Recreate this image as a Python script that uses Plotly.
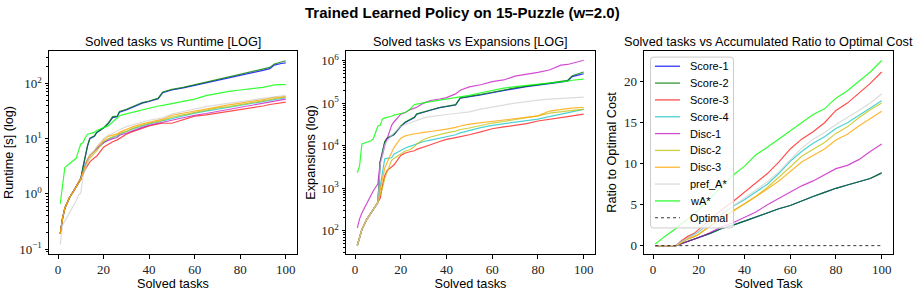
import plotly.graph_objects as go

# ---------------- data ----------------
NAMES = ["Score-1", "Score-2", "Score-3", "Score-4", "Disc-1", "Disc-2", "Disc-3", "pref_A*", "wA*"]
COLORS = ["rgba(0,0,255,0.8)", "rgba(0,128,0,0.8)", "rgba(255,0,0,0.7)", "rgba(0,191,191,0.7)",
          "rgba(191,0,191,0.7)", "rgba(191,191,0,0.75)", "rgba(255,165,0,0.8)", "rgba(205,205,205,0.7)",
          "rgba(0,255,0,0.8)"]

# Tasks at which values were read (panels 1 and 2)
TASKS_A = [1, 2, 3, 5, 7, 8, 9, 10, 11, 12, 13, 14, 16, 17, 20, 22, 24, 26, 27, 30, 33, 37, 40, 44, 46,
           50, 55, 60, 65, 70, 75, 80, 85, 90, 93, 95, 98, 100]

# Runtime [s]
RT_EARLY = [0.19, 0.36, 0.55, 0.85, 1.15, 1.35, 1.6, 1.86]
RT_S1 = RT_EARLY + [3.0, 4.9, 7.4, 10, 11, 12.8, 15.5, 18.5, 24, 25, 30, 33, 37, 44, 47, 53, 68,
                    76, 83, 92, 100, 113, 125, 140, 155, 172, 185, 215, 230, 235]
RT_S2 = RT_EARLY + [3.1, 5.0, 7.6, 10.2, 11.3, 13, 15.8, 19, 25, 25.5, 31, 34, 38, 45, 48, 54, 70,
                    78, 85, 95, 103, 117, 130, 145, 162, 180, 195, 225, 245, 258]
RT_S3 = RT_EARLY + [2.3, 2.8, 3.3, 3.8, 4.5, 4.8, 7.0, 8.0, 8.8, 9.5, 10, 12, 13.5, 15.5, 17, 18.5, 19,
                    19, 22, 25.5, 27, 29, 31, 33, 36, 39, 41.5, 43, 45, 46]
RT_S4 = RT_EARLY + [2.6, 3.5, 4.2, 5.0, 6.0, 6.5, 8.5, 9.8, 10.5, 11.2, 12, 13.5, 15, 17, 18.5, 20, 21,
                    23, 26, 29, 31.5, 34, 37, 40, 43, 47, 49, 51, 53, 55]
RT_D1 = RT_EARLY + [2.5, 3.3, 4.2, 4.8, 6.0, 6.6, 8.5, 9.3, 10, 10.5, 11.5, 12.5, 14, 16, 17.5, 19, 19.8,
                    21.5, 24, 26.5, 28.5, 31, 34, 37, 40, 44, 46, 48, 50, 52]
RT_D2 = RT_EARLY + [2.4, 3.1, 3.8, 4.4, 5.5, 6.0, 9.0, 10, 10.8, 11.5, 12.5, 13.5, 15.5, 17.5, 19, 20.5, 21.5,
                    24.5, 27, 30, 33, 36, 38, 41, 44, 48, 51, 53, 55, 57]
RT_D3 = RT_EARLY + [2.5, 3.4, 4.2, 5.0, 6.0, 7.0, 9.5, 11, 11.5, 12.2, 13, 14.7, 16.5, 18.5, 19.6, 21.5, 22.5,
                    26.5, 29, 32, 35, 38.5, 41, 44, 47, 51, 54, 56, 57, 58]
RT_PA = [0.12, 0.27, 0.32, 0.45, 0.62, 0.75, 0.95, 1.02] + [2.1, 2.9, 3.8, 4.8, 6.0, 7.0, 10, 11.5, 12.5, 13.5,
                    14.5, 16.5, 18, 20, 21.5, 23, 24, 28, 31, 35, 38, 41, 44, 46, 50, 54, 56, 57.5, 59, 61]
RT_WA = [0.66, 1.4, 3.0, 3.5, 4.0, 4.4, 6.0, 8.0] + [8.5, 10.5, 12, 12.3, 13, 14, 16, 17, 20, 24, 26,
                    28, 30, 33, 36, 39, 40, 43, 47, 52, 60, 66, 72, 76, 80, 85, 90, 94, 95, 95]

# Expansions
EX_EARLY = [45, 75, 107, 180, 260, 310, 380, 460]
EX_S1 = EX_EARLY + [4000, 7000, 12000, 14500, 16500, 18000, 28000, 35000, 40000, 46000, 55000,
                    60000, 68000, 78000, 82000, 90000, 130000, 138000, 155000, 175000, 198000, 220000,
                    243000, 260000, 285000, 310000, 330000, 420000, 460000, 490000]
EX_S2 = EX_EARLY + [4200, 7300, 12500, 15000, 17000, 18500, 29000, 36000, 41000, 47000, 56000,
                    61000, 69000, 79000, 84000, 92000, 133000, 142000, 160000, 180000, 204000, 228000,
                    250000, 268000, 295000, 325000, 345000, 440000, 490000, 540000]
EX_S3 = EX_EARLY + [570, 1170, 2000, 2600, 3200, 3500, 5900, 6700, 7200, 7600, 8200, 9100, 10500,
                    12500, 14000, 15500, 16500, 18000, 21000, 25000, 27500, 30000, 33000, 38000, 41000,
                    45000, 48000, 50000, 53000, 55000]
EX_S4 = EX_EARLY + [1100, 2500, 4900, 5000, 5200, 6300, 7800, 8800, 9600, 10500, 11200, 12500, 13500,
                    14800, 15800, 18000, 20000, 23000, 26500, 30000, 32500, 35500, 38500, 42000, 48000,
                    55000, 58000, 62000, 66000, 71000]
EX_D1 = [117, 190, 260, 430, 720, 870, 1050, 1270] + [4200, 5900, 10000, 14000, 30000, 36000, 55000,
                    60000, 70000, 76000, 80000, 100000, 115000, 125000, 135000, 165000, 200000, 240000,
                    270000, 320000, 350000, 430000, 470000, 530000, 600000, 780000, 810000, 850000,
                    950000, 1020000]
EX_D2 = EX_EARLY + [700, 1000, 1700, 2400, 4500, 5000, 6500, 7500, 8000, 9500, 11000, 14000, 16000,
                    18500, 20000, 22000, 24000, 26000, 30000, 34000, 37000, 41000, 45000, 50000, 58000,
                    62000, 65000, 68000, 70000, 72000]
EX_D3 = EX_EARLY + [900, 1600, 3000, 4000, 7000, 9000, 15000, 17000, 18000, 19000, 19500, 20500, 21500,
                    23000, 24500, 27000, 29000, 32000, 34500, 37000, 40000, 43000, 46000, 50000, 65000,
                    72000, 74000, 76000, 78000, 80000]
EX_PA = EX_EARLY + [3500, 6500, 10500, 13000, 17000, 20000, 28000, 32000, 34000, 37000, 40000, 45000,
                    48000, 52000, 54000, 57000, 59000, 62000, 72000, 82000, 90000, 100000, 110000,
                    118000, 124000, 128000, 131000, 134000, 136000, 138000]
EX_WA = [2300, 3400, 11000, 12000, 13000, 14500, 22000, 29000] + [30000, 42000, 45000, 46000, 49000,
                    52000, 57000, 60000, 72000, 93000, 95000, 100000, 108000, 118000, 124000, 135000,
                    140000, 152000, 175000, 200000, 225000, 245000, 260000, 275000, 295000, 315000,
                    330000, 345000, 355000, 365000]

# Accumulated ratio to optimal cost (panel 3)
TASKS_C = [1, 5, 10, 12, 15, 18, 20, 25, 30, 35, 40, 45, 50, 55, 60, 65, 70, 75, 80, 85, 90, 95, 100]
C_S1 = [0, 0, 0, 0.2, 0.5, 0.8, 1.0, 1.5, 2.1, 2.5, 3.0, 3.5, 4.0, 4.5, 4.9, 5.5, 6.0, 6.5, 7.0, 7.4, 7.8, 8.2, 8.9]
C_S2 = [0, 0, 0, 0.2, 0.5, 0.8, 1.0, 1.5, 2.1, 2.5, 3.0, 3.5, 4.0, 4.5, 4.9, 5.5, 6.0, 6.5, 7.0, 7.4, 7.8, 8.2, 8.85]
C_S3 = [0, 0, 0, 0.5, 1.1, 1.5, 2.0, 3.2, 4.4, 5.4, 6.5, 7.6, 8.8, 10.2, 11.8, 13.0, 13.9, 15.0, 16.5, 17.4, 18.6, 19.8, 21.2]
C_S4 = [0, 0, 0, 0.4, 0.9, 1.3, 1.7, 2.8, 3.8, 4.8, 5.6, 6.5, 7.5, 8.8, 10.3, 11.5, 12.5, 13.3, 14.3, 15.0, 15.9, 16.8, 17.7]
C_D1 = [0, 0, 0, 0.2, 0.5, 0.8, 1.0, 1.6, 2.3, 2.8, 3.4, 4.1, 5.0, 5.8, 6.6, 7.3, 7.9, 8.6, 9.4, 9.8, 10.5, 11.5, 12.4]
C_D2 = [0, 0, 0, 0.3, 0.8, 1.1, 1.4, 2.4, 3.4, 4.3, 5.1, 6.0, 7.1, 8.3, 9.6, 10.9, 11.8, 12.6, 13.7, 14.5, 15.6, 16.6, 17.4]
C_D3 = [0, 0, 0, 0.3, 0.8, 1.1, 1.4, 2.4, 3.3, 4.2, 5.0, 5.9, 6.9, 7.9, 9.0, 10.2, 11.0, 11.8, 12.9, 13.6, 14.6, 15.5, 16.4]
C_PA = [0, 0, 0, 0.4, 0.9, 1.3, 1.7, 2.8, 3.9, 4.8, 5.8, 6.7, 7.8, 9.0, 10.5, 11.9, 13.0, 13.8, 14.8, 15.6, 16.5, 17.4, 18.5]
C_WA = [0.2, 1.1, 2.1, 2.6, 3.2, 3.9, 4.4, 5.8, 7.2, 8.6, 9.7, 11.1, 12.0, 13.0, 14.0, 15.1, 16.0, 16.7, 18.0, 18.9, 20.1, 21.2, 22.6]
OPT_TASKS = [1, 100]
OPT_VALUES = [0, 0]

RUNTIME = [RT_S1, RT_S2, RT_S3, RT_S4, RT_D1, RT_D2, RT_D3, RT_PA, RT_WA]
EXPANSIONS = [EX_S1, EX_S2, EX_S3, EX_S4, EX_D1, EX_D2, EX_D3, EX_PA, EX_WA]
RATIO = [C_S1, C_S2, C_S3, C_S4, C_D1, C_D2, C_D3, C_PA, C_WA]

TITLE = "<b>Trained Learned Policy on 15-Puzzle (w=2.0)</b>"
SUB_TITLES = ["Solved tasks vs Runtime [LOG]", "Solved tasks vs Expansions [LOG]",
              "Solved tasks vs Accumulated Ratio to Optimal Cost"]
X_TITLES = ["Solved tasks", "Solved tasks", "Solved Task"]
Y_TITLES = ["Runtime [s] (log)", "Expansions (log)", "Ratio to Optimal Cost"]

# ---------------- figure ----------------
W, H = 921, 293
SANS = "Liberation Sans"
SERIF = "Liberation Serif"
LW = 1.2

fig = go.Figure()
for i, name in enumerate(NAMES):
    fig.add_trace(go.Scatter(x=TASKS_A, y=RUNTIME[i], mode="lines", name=name,
                             line=dict(color=COLORS[i], width=LW), showlegend=False,
                             xaxis="x", yaxis="y"))
for i, name in enumerate(NAMES):
    fig.add_trace(go.Scatter(x=TASKS_A, y=EXPANSIONS[i], mode="lines", name=name,
                             line=dict(color=COLORS[i], width=LW), showlegend=False,
                             xaxis="x2", yaxis="y2"))
for i, name in enumerate(NAMES):
    fig.add_trace(go.Scatter(x=TASKS_C, y=RATIO[i], mode="lines", name=name,
                             line=dict(color=COLORS[i], width=LW), showlegend=False,
                             xaxis="x3", yaxis="y3"))
fig.add_trace(go.Scatter(x=OPT_TASKS, y=OPT_VALUES, mode="lines", name="Optimal",
                         line=dict(color="black", width=0.8, dash="dot"), showlegend=False,
                         xaxis="x3", yaxis="y3"))

xdoms = [[49 / W, 297 / W], [346 / W, 595 / W], [644 / W, 893 / W]]
ydom = [(H - 256) / H, (H - 51) / H]

common_axis = dict(showline=True, linecolor="black", linewidth=1, mirror=True,
                   ticks="outside", ticklen=3.5, tickwidth=0.8, tickcolor="black",
                   showgrid=False, zeroline=False,
                   tickfont=dict(family=SERIF, size=13, color="#222"))

def xaxis(i):
    return dict(common_axis, domain=xdoms[i], range=[-3.95, 104.95], tickmode="array",
                tickvals=[0, 20, 40, 60, 80, 100], ticktext=["0", "20", "40", "60", "80", "100"],
                anchor="y" if i == 0 else "y%d" % (i + 1),
                title=dict(text=X_TITLES[i], font=dict(family=SANS, size=12.7, color="black"), standoff=0))

def minor_log(lo, hi):
    vals = []
    for e in range(lo, hi):
        for m in range(2, 10):
            vals.append(m * 10 ** e)
    return vals

layout = dict(
    width=W, height=H, margin=dict(l=0, r=0, t=0, b=0),
    paper_bgcolor="white", plot_bgcolor="white", showlegend=False,
    xaxis=xaxis(0), xaxis2=xaxis(1), xaxis3=xaxis(2),
    yaxis=dict(common_axis, domain=ydom, type="log", range=[-1.095, 2.594], anchor="x",
               tickmode="array", tickvals=[0.1, 1, 10, 100],
               ticktext=["10<sup>−1</sup>", "10<sup>0</sup>", "10<sup>1</sup>", "10<sup>2</sup>"],
               minor=dict(ticks="outside", ticklen=2, tickwidth=0.6, tickcolor="black",
                          tickmode="array", tickvals=minor_log(-2, 3)),
               title=dict(text=Y_TITLES[0], font=dict(family=SANS, size=12.7, color="black"), standoff=2)),
    yaxis2=dict(common_axis, domain=ydom, type="log", range=[1.447, 6.233], anchor="x2",
                tickmode="array", tickvals=[100, 1000, 10000, 100000, 1000000],
                ticktext=["10<sup>2</sup>", "10<sup>3</sup>", "10<sup>4</sup>", "10<sup>5</sup>", "10<sup>6</sup>"],
                minor=dict(ticks="outside", ticklen=2, tickwidth=0.6, tickcolor="black",
                           tickmode="array", tickvals=minor_log(1, 7)),
                title=dict(text=Y_TITLES[1], font=dict(family=SANS, size=12.7, color="black"), standoff=2)),
    yaxis3=dict(common_axis, domain=ydom, range=[-1.05, 23.8], anchor="x3",
                tickmode="array", tickvals=[0, 5, 10, 15, 20], ticktext=["0", "5", "10", "15", "20"],
                title=dict(text=Y_TITLES[2], font=dict(family=SANS, size=12.7, color="black"), standoff=4)),
)
fig.update_layout(**layout)

annotations = [dict(text=TITLE, x=462 / W, y=1 - 13 / H, xref="paper", yref="paper",
                    showarrow=False, xanchor="center", yanchor="middle",
                    font=dict(family=SANS, size=15, color="black"))]
for i, t in enumerate(SUB_TITLES):
    annotations.append(dict(text=t, x=(xdoms[i][0] + xdoms[i][1]) / 2, y=1 - 42 / H,
                            xref="paper", yref="paper", showarrow=False,
                            xanchor="center", yanchor="middle",
                            font=dict(family=SANS, size=12.7, color="black")))

# ---- legend (matplotlib style box inside the third panel) ----
def px(xp):
    return xp / W

def py(yp):
    return 1 - yp / H

LX0, LX1, LY0, LY1, R = 650.5, 733.5, 57.5, 229.5, 3.0
box_path = ("M {a},{b} L {c},{b} Q {d},{b} {d},{e} L {d},{f} Q {d},{g} {c},{g} "
            "L {a},{g} Q {h},{g} {h},{f} L {h},{e} Q {h},{b} {a},{b} Z").format(
    a=px(LX0 + R), b=py(LY0), c=px(LX1 - R), d=px(LX1), e=py(LY0 + R), f=py(LY1 - R),
    g=py(LY1), h=px(LX0))
shapes = [dict(type="path", path=box_path, xref="paper", yref="paper", layer="above",
               fillcolor="rgba(255,255,255,0.8)", line=dict(color="#cccccc", width=1))]
LEG_NAMES = NAMES + ["Optimal"]
LEG_COLORS = COLORS + ["black"]
for k, (nm, col) in enumerate(zip(LEG_NAMES, LEG_COLORS)):
    yc = 66.7 + k * 16.95
    dash = "dot" if nm == "Optimal" else "solid"
    lw = 0.8 if nm == "Optimal" else 1.3
    shapes.append(dict(type="line", xref="paper", yref="paper", layer="above",
                       x0=px(655), x1=px(680), y0=py(yc), y1=py(yc),
                       line=dict(color=col, width=lw, dash=dash)))
    annotations.append(dict(text=nm, x=px(688), y=py(yc), xref="paper", yref="paper",
                            showarrow=False, xanchor="left", yanchor="middle",
                            font=dict(family=SANS, size=11, color="black")))

fig.update_layout(annotations=annotations, shapes=shapes)

fig.write_html("out.html", config={"displayModeBar": False},
               post_script="document.body.style.margin='0px';")
